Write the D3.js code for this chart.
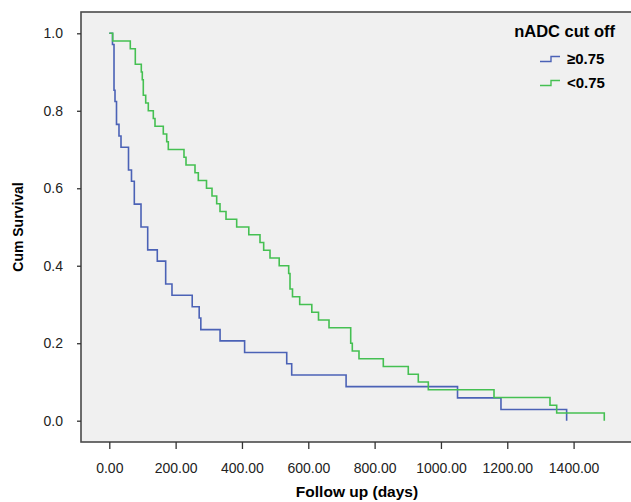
<!DOCTYPE html>
<html>
<head>
<meta charset="utf-8">
<script src="https://cdn.jsdelivr.net/npm/d3@7"></script>
<style>
  body { margin: 0; background: #fff; }
  svg { display: block; font-family: Arial, "Liberation Sans", sans-serif; }
</style>
</head>
<body>
<div id="km-chart"></div>
<script>
// Kaplan-Meier steps (days, cumulative survival)
const highDays = [0, 9.6, 14.2, 17.2, 21.7, 29.2, 35.3, 57.9, 66.9, 75.4, 95.6, 115.8, 144.7, 170, 189, 250, 271, 276, 334, 408, 535, 550, 714, 1050, 1181, 1379];
const highSurv = [1, 0.971, 0.853, 0.824, 0.765, 0.735, 0.706, 0.647, 0.618, 0.559, 0.5, 0.441, 0.412, 0.353, 0.324, 0.294, 0.265, 0.235, 0.206, 0.176, 0.147, 0.118, 0.088, 0.059, 0.029, 0];

const lowDays = [0, 10.3, 63.3, 78.4, 96.5, 99.5, 102.5, 109.8, 117.6, 132.7, 137.8, 162.8, 173.1, 177.9, 225.2, 231.3, 258.4, 268.4, 293.1, 309.7, 323.8, 333.8, 351.9, 384.1, 420.6, 454.4, 465.5, 484.6, 512.3, 540.9, 544.9, 552.4, 574.1, 610.6, 630.8, 662.5, 727.9, 732.7, 752.9, 826.2, 901.5, 931.7, 961.9, 1160, 1328.8, 1349, 1492.5];
const lowSurv = [1, 0.98, 0.96, 0.92, 0.9, 0.88, 0.84, 0.82, 0.8, 0.78, 0.76, 0.74, 0.72, 0.7, 0.68, 0.66, 0.64, 0.62, 0.6, 0.58, 0.56, 0.54, 0.52, 0.5, 0.48, 0.46, 0.44, 0.42, 0.4, 0.38, 0.34, 0.32, 0.3, 0.28, 0.26, 0.24, 0.2, 0.18, 0.16, 0.14, 0.12, 0.1, 0.08, 0.06, 0.04, 0.02, 0];

const xTicks = [0, 200, 400, 600, 800, 1000, 1200, 1400];
const yTicks = [0, 0.2, 0.4, 0.6, 0.8, 1.0];
const groups = ["\u22650.75", "<0.75"];
const colors = ["#4b62b6", "#45c052"];

const width = 631, height = 502;
const frame = { left: 81, top: 12, right: 640, bottom: 442 };

const svg = d3.select("#km-chart")
  .append("svg")
  .attr("width", width)
  .attr("height", height);

const x = d3.scaleLinear()
  .domain([0, 1400])
  .range([109.3, 573.6]);

const y = d3.scaleLinear()
  .domain([0, 1])
  .range([420.7, 33.3]);

// plot background + frame
svg.append("rect")
  .attr("x", frame.left)
  .attr("y", frame.top)
  .attr("width", frame.right - frame.left)
  .attr("height", frame.bottom - frame.top)
  .attr("fill", "#f0f0f0")
  .attr("stroke", "#4a4a4a")
  .attr("stroke-width", 1.6);

// axes
svg.append("g")
  .attr("transform", "translate(0," + frame.bottom + ")")
  .style("font-size", "14px")
  .call(d3.axisBottom(x).tickValues(xTicks).tickFormat(d3.format(".2f")).tickSize(7).tickPadding(14))
  .call(g => g.select(".domain").remove())
  .call(g => g.selectAll(".tick line").attr("stroke", "#333").attr("stroke-width", 1.3))
  .call(g => g.selectAll(".tick text").attr("fill", "#222").style("font-family", "Arial, 'Liberation Sans', sans-serif"));

svg.append("g")
  .attr("transform", "translate(" + frame.left + ",0)")
  .style("font-size", "14px")
  .call(d3.axisLeft(y).tickValues(yTicks).tickFormat(d3.format(".1f")).tickSize(4).tickPadding(14))
  .call(g => g.select(".domain").remove())
  .call(g => g.selectAll(".tick line").attr("stroke", "#333").attr("stroke-width", 1.3))
  .call(g => g.selectAll(".tick text").attr("fill", "#222").style("font-family", "Arial, 'Liberation Sans', sans-serif"));

// survival curves
const line = d3.line()
  .x(d => x(d[0]))
  .y(d => y(d[1]))
  .curve(d3.curveStepAfter);

const series = [
  d3.zip(highDays, highSurv),
  d3.zip(lowDays, lowSurv)
];

svg.selectAll(".km")
  .data(series)
  .enter().append("path")
  .attr("class", "km")
  .attr("d", line)
  .attr("fill", "none")
  .attr("stroke", (d, i) => colors[i])
  .attr("stroke-width", 1.6);

// axis titles
svg.append("text")
  .attr("x", 357)
  .attr("y", 497)
  .style("text-anchor", "middle")
  .style("font-size", "15.5px")
  .style("font-weight", "bold")
  .text("Follow up (days)");

svg.append("text")
  .attr("transform", "translate(23,227) rotate(-90)")
  .style("text-anchor", "middle")
  .style("font-size", "14px")
  .style("font-weight", "bold")
  .text("Cum Survival");

// legend
svg.append("text")
  .attr("x", 615)
  .attr("y", 37)
  .style("text-anchor", "end")
  .style("font-size", "16.5px")
  .style("font-weight", "bold")
  .text("nADC cut off");

const legend = svg.selectAll(".legend")
  .data(groups)
  .enter().append("g")
  .attr("class", "legend")
  .attr("transform", (d, i) => "translate(0," + (i * 24) + ")");

legend.append("path")
  .attr("d", "M540,61.5H551V56.5H560")
  .attr("fill", "none")
  .attr("stroke", (d, i) => colors[i])
  .attr("stroke-width", 1.4);

legend.append("text")
  .attr("x", 567)
  .attr("y", 63.5)
  .style("font-size", "15px")
  .style("font-weight", "bold")
  .text(d => d);
</script>
</body>
</html>
